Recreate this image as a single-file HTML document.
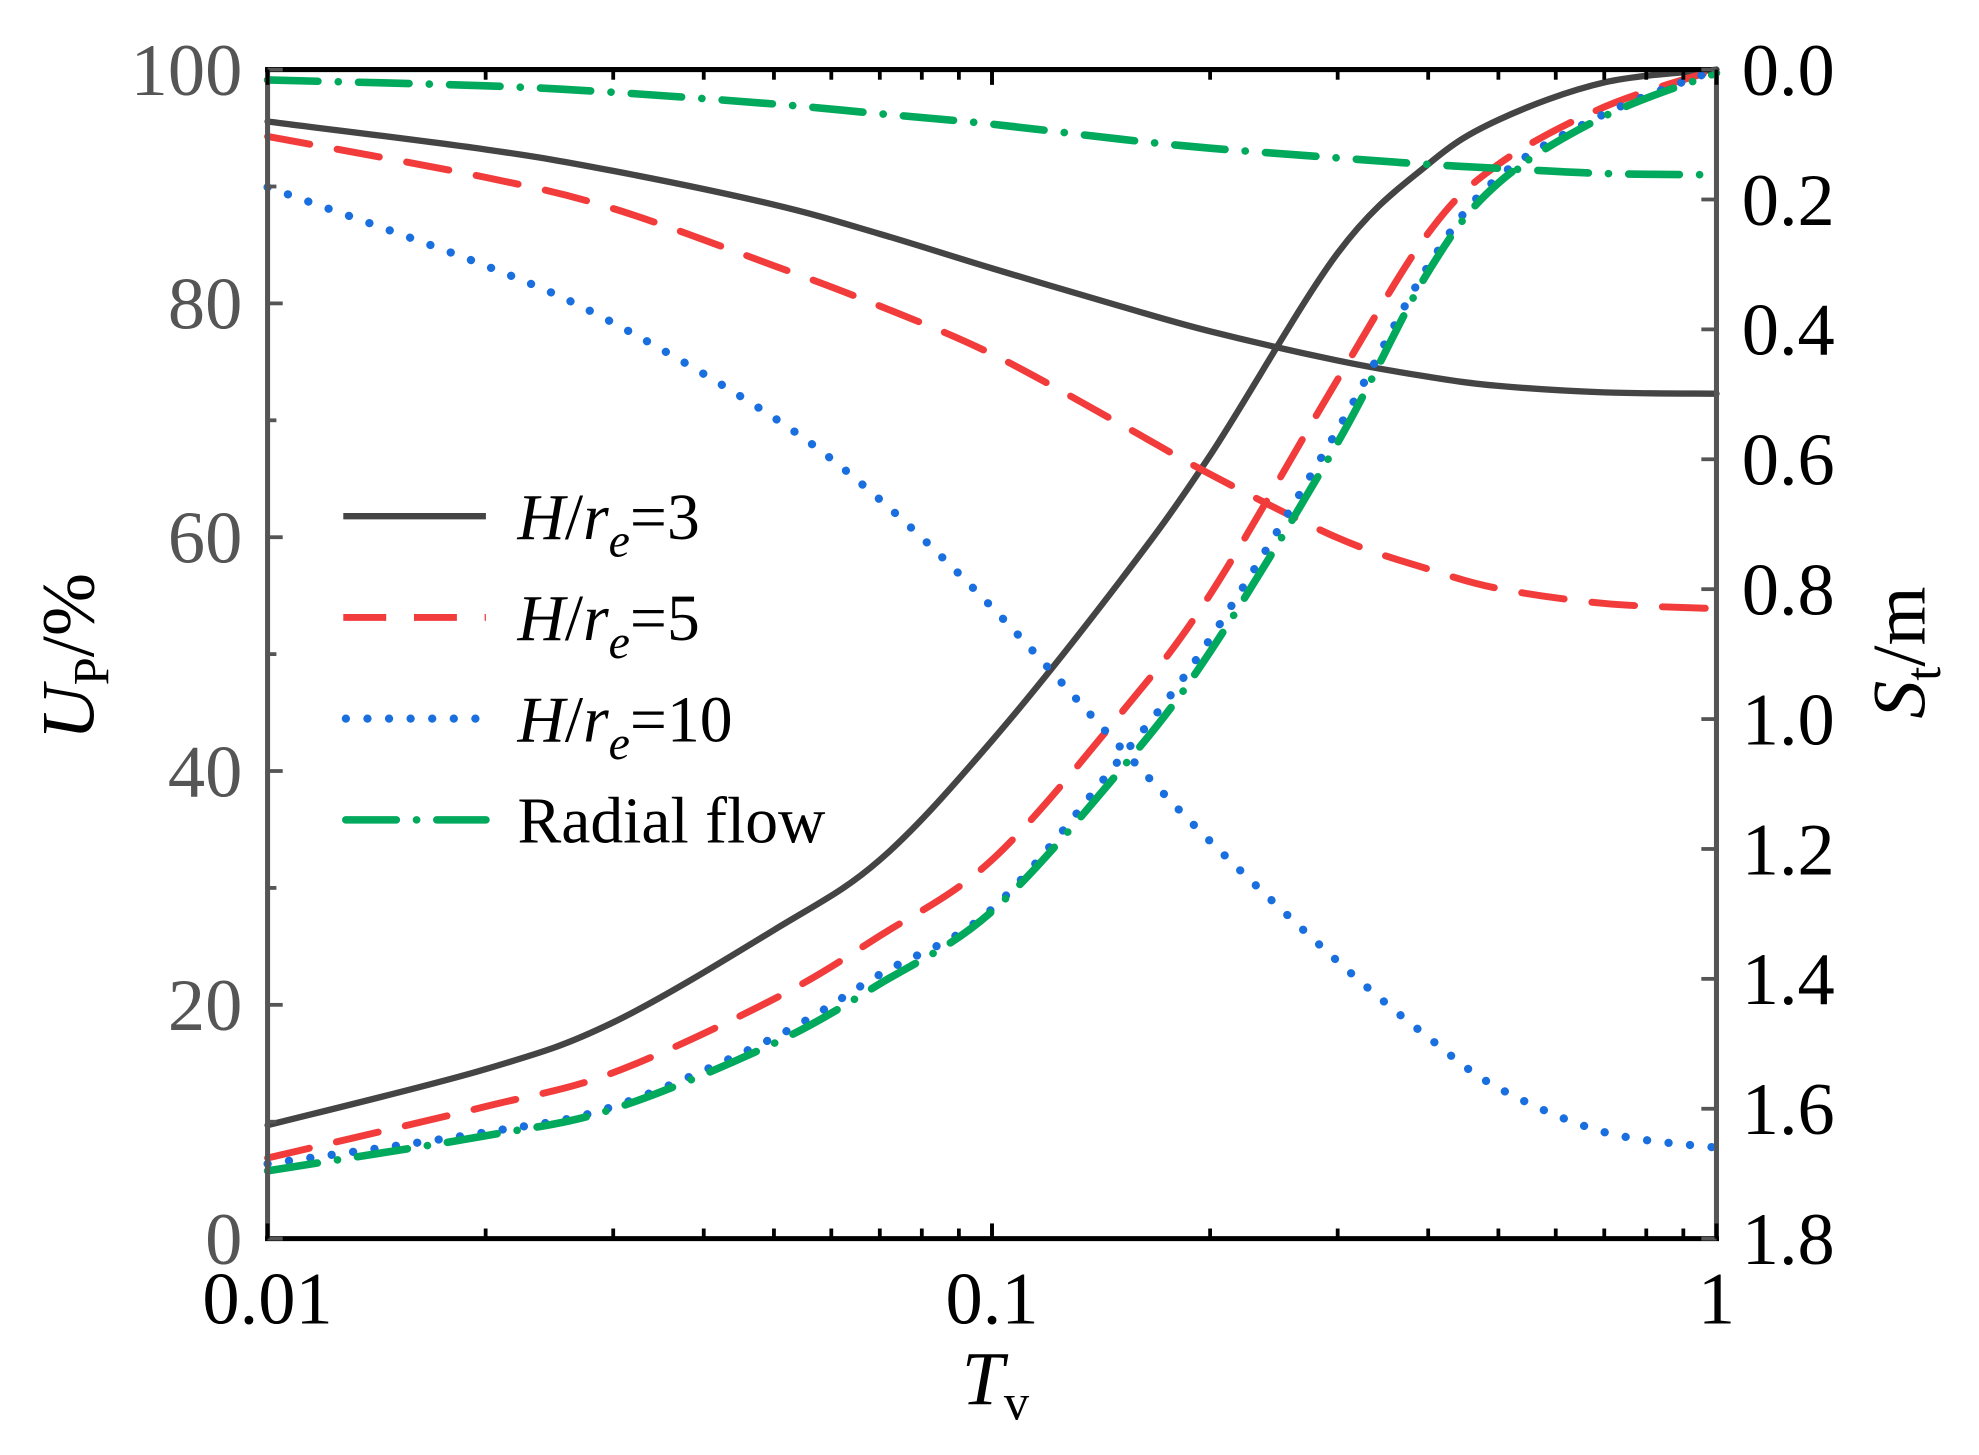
<!DOCTYPE html>
<html><head><meta charset="utf-8"><style>
html,body{margin:0;padding:0;background:#fff}
svg{display:block}
text{font-family:"Liberation Serif",serif}
</style></head><body>
<svg id="chart" width="1979" height="1455" viewBox="0 0 1568 1150" preserveAspectRatio="none" xmlns="http://www.w3.org/2000/svg">
<g id="marks"></g>
<g id="axes"></g>
<g id="legend"></g>
</svg>
<script>
const tv = [0.01,0.02,0.03,0.05,0.07,0.1,0.15,0.2,0.3,0.4,0.5,0.7,1];
const upH3 = [9.7,14.5,18.5,26.4,32.4,42.6,56.2,67,84.3,91.9,95.7,98.9,100];
const upH5 = [6.9,11.3,14.2,20.5,25.9,32.4,44.8,55.1,73.5,86,91.9,96.8,100];
const upH10 = [6.4,9.1,11.3,17.2,22.6,28.2,41,51.3,69.2,83.2,90.8,96.2,100];
const upRadial = [5.8,8.8,11.1,16.7,21.8,28,40,50.2,68.1,82.7,90.3,96,99.7];
const stH3 = [0.08,0.123,0.156,0.208,0.253,0.306,0.364,0.403,0.448,0.473,0.487,0.497,0.499];
const stH5 = [0.103,0.166,0.214,0.302,0.364,0.438,0.545,0.623,0.721,0.769,0.799,0.822,0.83];
const stH10 = [0.181,0.302,0.39,0.536,0.662,0.828,1.042,1.188,1.373,1.49,1.568,1.636,1.66];
const stRadial = [0.016,0.025,0.035,0.053,0.068,0.084,0.107,0.121,0.136,0.146,0.152,0.16,0.162];
const leftTicks = [0,20,40,60,80,100];
const rightTicks = ["0.0","0.2","0.4","0.6","0.8","1.0","1.2","1.4","1.6","1.8"];
const xTicks = [0.01,0.1,1];
const xTickLabels = ["0.01","0.1","1"];

const L=212,R=1360,T=55,B=979;
const NS="http://www.w3.org/2000/svg";
const xs=v=>L+(Math.log10(v)+2)/2*(R-L);
const yl=v=>B-v/100*(B-T);
const yr=v=>T+v/1.8*(B-T);
function el(tag,attrs,parent){const e=document.createElementNS(NS,tag);for(const k in attrs)e.setAttribute(k,attrs[k]);parent.appendChild(e);return e;}

const marks=document.getElementById('marks'),axes=document.getElementById('axes');
const styles=[
 {c:'#444',d:'',n:'h3',w:5},
 {c:'#f23c3c',d:'34 22',n:'h5',w:5.5},
 {c:'#1a6fdf',d:'0.1 17',n:'h10',w:6.5},
 {c:'#00a95c',d:'40 16 0.1 16',n:'radial',w:6}];
const upS=[upH3,upH5,upH10,upRadial], stS=[stH3,stH5,stH10,stRadial];
function smoothPath(pts){
  let d='M'+pts[0][0]+','+pts[0][1];
  for(let i=0;i<pts.length-1;i++){
    const p0=pts[Math.max(0,i-1)],p1=pts[i],p2=pts[i+1],p3=pts[Math.min(pts.length-1,i+2)];
    const c1=[p1[0]+(p2[0]-p0[0])/6,p1[1]+(p2[1]-p0[1])/6];
    const c2=[p2[0]-(p3[0]-p1[0])/6,p2[1]-(p3[1]-p1[1])/6];
    d+=' C'+c1[0]+','+c1[1]+' '+c2[0]+','+c2[1]+' '+p2[0]+','+p2[1];
  }
  return d;
}
styles.forEach((s,i)=>{
  const p1=el('path',{d:smoothPath(tv.map((t,j)=>[xs(t),yl(upS[i][j])])),fill:'none',stroke:s.c,'stroke-width':s.w,'stroke-dasharray':s.d,'stroke-linecap':'round'},marks);
  
  
  const p2=el('path',{d:smoothPath(tv.map((t,j)=>[xs(t),yr(stS[i][j])])),fill:'none',stroke:s.c,'stroke-width':s.w,'stroke-dasharray':s.d,'stroke-linecap':'round'},marks);
  
  
});
el('line',{x1:L,y1:T,x2:L,y2:B,stroke:'#555','stroke-width':4},axes);
el('line',{x1:R,y1:T,x2:R,y2:B,stroke:'#555','stroke-width':4},axes);
el('line',{x1:L-2,y1:T,x2:R-4,y2:T,stroke:'#000','stroke-width':4},axes);
el('line',{x1:L-2,y1:B,x2:R+2,y2:B,stroke:'#000','stroke-width':4},axes);
for(let v=0;v<=100;v+=10){const len=v%20===0?12:7;el('line',{x1:L,y1:yl(v),x2:L+len,y2:yl(v),stroke:'#555','stroke-width':3},axes);}
leftTicks.forEach(v=>{const t=el('text',{x:192,y:yl(v)+20,'text-anchor':'end','font-size':59,fill:'#555'},axes);t.textContent=v;
 
 });
rightTicks.forEach(v=>{const y=yr(parseFloat(v));el('line',{x1:R,y1:y,x2:R-12,y2:y,stroke:'#555','stroke-width':3},axes);
 const t=el('text',{x:1380,y:y+20,'font-size':59,fill:'#000'},axes);t.textContent=v;
 
 });
[0.01,0.1].forEach(d=>{for(let k=1;k<=10;k++){const v=d*k;const len=(k===1||k===10)?12:8;const x=xs(v);
 el('line',{x1:x,y1:B,x2:x,y2:B-len,stroke:'#000','stroke-width':3},axes);
 el('line',{x1:x,y1:T,x2:x,y2:T+len,stroke:'#000','stroke-width':3},axes);}});
xTicks.forEach((v,i)=>{const t=el('text',{x:xs(v),y:1046,'text-anchor':'middle','font-size':59,fill:'#000'},axes);t.textContent=xTickLabels[i];
 
 });
</script>
<svg style="position:absolute;left:0;top:0" width="1979" height="1455" viewBox="0 0 1568 1150" preserveAspectRatio="none" xmlns="http://www.w3.org/2000/svg">
<text x="762" y="1110" font-size="60" font-style="italic" font-family="Liberation Serif,serif">T<tspan font-size="40" font-style="normal" dy="12">v</tspan></text>
<text transform="translate(74,585) rotate(-90)" font-size="60" font-family="Liberation Serif,serif"><tspan font-style="italic">U</tspan><tspan font-size="40" dy="12">P</tspan><tspan dy="-12">/%</tspan></text>
<text transform="translate(1525,568) rotate(-90)" font-size="60" font-family="Liberation Serif,serif"><tspan font-style="italic">S</tspan><tspan font-size="40" dy="12">t</tspan><tspan dy="-12">/m</tspan></text>
<g font-family="Liberation Serif,serif" font-size="52">
<line x1="272" y1="408" x2="385" y2="408" stroke="#444" stroke-width="5"/>
<text x="410" y="426"><tspan font-style="italic">H</tspan>/<tspan font-style="italic">r</tspan><tspan font-style="italic" font-size="38" dy="14">e</tspan><tspan dy="-14">=3</tspan></text>
<line x1="272" y1="488" x2="385" y2="488" stroke="#f23c3c" stroke-width="5.5" stroke-dasharray="34 22"/>
<text x="410" y="506"><tspan font-style="italic">H</tspan>/<tspan font-style="italic">r</tspan><tspan font-style="italic" font-size="38" dy="14">e</tspan><tspan dy="-14">=5</tspan></text>
<line x1="274" y1="568" x2="385" y2="568" stroke="#1a6fdf" stroke-width="6.5" stroke-dasharray="0.1 17" stroke-linecap="round"/>
<text x="410" y="586"><tspan font-style="italic">H</tspan>/<tspan font-style="italic">r</tspan><tspan font-style="italic" font-size="38" dy="14">e</tspan><tspan dy="-14">=10</tspan></text>
<line x1="274" y1="648" x2="385" y2="648" stroke="#00a95c" stroke-width="6" stroke-dasharray="40 16 0.1 16" stroke-linecap="round"/>
<text x="410" y="666">Radial flow</text>
</g>
</svg>
</body></html>
